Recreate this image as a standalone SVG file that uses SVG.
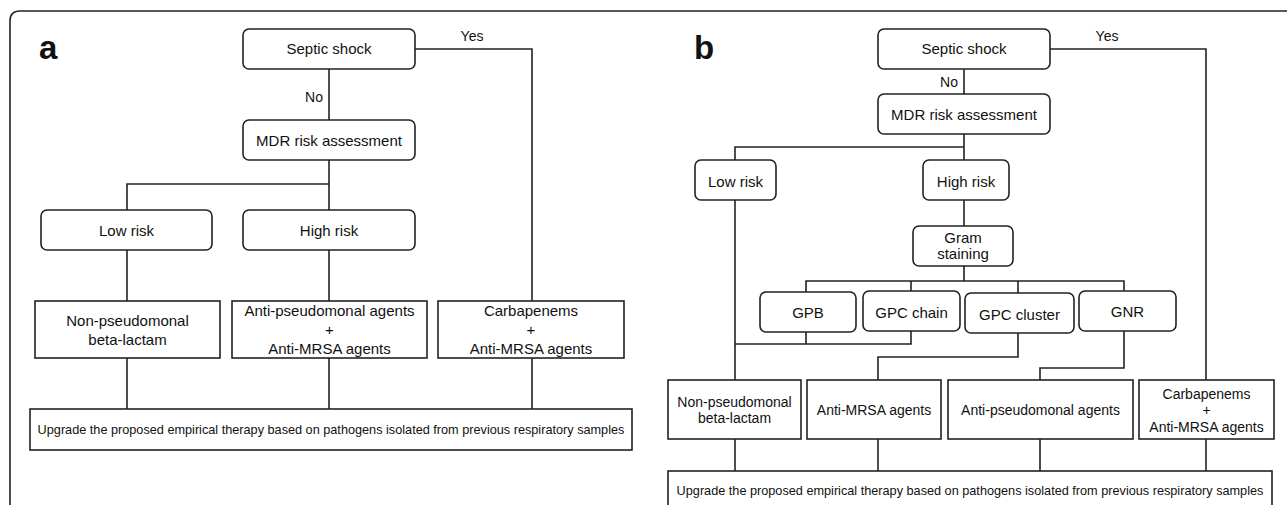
<svg xmlns="http://www.w3.org/2000/svg" width="1287" height="505" viewBox="0 0 1287 505">
<style>
.b{fill:#fff;stroke:#222;stroke-width:1.6}
.c{fill:none;stroke:#222;stroke-width:1.6}
text{font-family:"Liberation Sans",Arial,sans-serif;fill:#111;text-anchor:middle}
.t15{font-size:15px}
.t14{font-size:14px}
.t12{font-size:12.7px}
.lab{font-size:33px;font-weight:bold;text-anchor:start}
</style>
<rect width="1287" height="505" fill="#fff"/>
<path class="c" d="M10,505 V21 Q10,11 20,11 H1287"/>
<text class="lab" x="39" y="59">a</text>
<text class="lab" x="694" y="59">b</text>

<g id="connectors">
  <path class="c" d="M329,69 V120"/>
  <path class="c" d="M415,49 H532 V301"/>
  <path class="c" d="M329,160 V210 M127,210 V184 H329"/>
  <path class="c" d="M127,250 V301 M329,250 V301"/>
  <path class="c" d="M127,358 V409 M329,358 V409 M532,358 V409"/>
  <text class="t14" x="314" y="101.5">No</text>
  <text class="t14" x="472" y="40.5">Yes</text>

  <path class="c" d="M964,69 V94"/>
  <path class="c" d="M1050,49 H1206 V380"/>
  <path class="c" d="M964,134 V160 M735,160 V147 H964"/>
  <path class="c" d="M735,200 V380"/>
  <path class="c" d="M964,200 V226"/>
  <path class="c" d="M964,266 V281 M806,292 V281 H1124 V291 M911,281 V291 M1018,281 V293"/>
  <path class="c" d="M735,344 H911 V331 M806,332 V344"/>
  <path class="c" d="M1018,333 V357 H878 V380"/>
  <path class="c" d="M1124,331 V368 H1040 V380"/>
  <path class="c" d="M735,439 V471 M878,439 V471 M1040,439 V471 M1206,439 V471"/>
  <text class="t14" x="949" y="87">No</text>
  <text class="t14" x="1107" y="40.5">Yes</text>
</g>

<g id="a-septic"><rect class="b" x="243" y="29" width="172" height="40" rx="6"/><text class="t15" x="329" y="53.5">Septic shock</text></g>
<g id="a-mdr"><rect class="b" x="243" y="120" width="172" height="40" rx="6"/><text class="t15" x="329" y="146">MDR risk assessment</text></g>
<g id="a-low"><rect class="b" x="41" y="210" width="171" height="40" rx="6"/><text class="t15" x="126.5" y="236">Low risk</text></g>
<g id="a-high"><rect class="b" x="243" y="210" width="172" height="40" rx="6"/><text class="t15" x="329" y="236">High risk</text></g>
<g id="a-nonpseudo"><rect class="b" x="35" y="301" width="185" height="57"/><text class="t15" x="127.5" y="326">Non-pseudomonal</text><text class="t15" x="127.5" y="345">beta-lactam</text></g>
<g id="a-antipseudo"><rect class="b" x="232" y="301" width="195" height="57"/><text class="t15" x="329.5" y="316">Anti-pseudomonal agents</text><text class="t15" x="329.5" y="335">+</text><text class="t15" x="329.5" y="354">Anti-MRSA agents</text></g>
<g id="a-carba"><rect class="b" x="438" y="301" width="186" height="57"/><text class="t15" x="531" y="316">Carbapenems</text><text class="t15" x="531" y="335">+</text><text class="t15" x="531" y="354">Anti-MRSA agents</text></g>
<g id="a-upgrade"><rect class="b" x="30" y="409" width="602" height="41"/><text class="t12" x="331" y="434">Upgrade the proposed empirical therapy based on pathogens isolated from previous respiratory samples</text></g>

<g id="b-septic"><rect class="b" x="878" y="29" width="172" height="40" rx="6"/><text class="t15" x="964" y="53.5">Septic shock</text></g>
<g id="b-mdr"><rect class="b" x="878" y="94" width="172" height="40" rx="6"/><text class="t15" x="964" y="119.5">MDR risk assessment</text></g>
<g id="b-low"><rect class="b" x="695" y="160" width="81" height="40" rx="6"/><text class="t15" x="735.5" y="186.5">Low risk</text></g>
<g id="b-high"><rect class="b" x="923" y="160" width="86" height="40" rx="6"/><text class="t15" x="966" y="186.5">High risk</text></g>
<g id="b-gram"><rect class="b" x="913" y="226" width="100" height="40" rx="6"/><text class="t15" x="963" y="243">Gram</text><text class="t15" x="963" y="259">staining</text></g>
<g id="b-gpb"><rect class="b" x="760" y="292" width="96" height="40" rx="6"/><text class="t15" x="808" y="318">GPB</text></g>
<g id="b-gpcchain"><rect class="b" x="863" y="291" width="97" height="40" rx="6"/><text class="t15" x="911.5" y="318">GPC chain</text></g>
<g id="b-gpccluster"><rect class="b" x="965" y="293" width="109" height="40" rx="6"/><text class="t15" x="1019.5" y="320">GPC cluster</text></g>
<g id="b-gnr"><rect class="b" x="1079" y="291" width="97" height="40" rx="6"/><text class="t15" x="1127.5" y="317">GNR</text></g>
<g id="b-nonpseudo"><rect class="b" x="668" y="380" width="133" height="59"/><text class="t14" x="734.5" y="407">Non-pseudomonal</text><text class="t14" x="734.5" y="423">beta-lactam</text></g>
<g id="b-antimrsa"><rect class="b" x="807" y="380" width="134" height="59"/><text class="t14" x="874" y="415">Anti-MRSA agents</text></g>
<g id="b-antipseudo"><rect class="b" x="948" y="380" width="185" height="59"/><text class="t14" x="1040.5" y="415">Anti-pseudomonal agents</text></g>
<g id="b-carba"><rect class="b" x="1139" y="380" width="135" height="59"/><text class="t14" x="1206.5" y="398.5">Carbapenems</text><text class="t14" x="1206.5" y="415">+</text><text class="t14" x="1206.5" y="432">Anti-MRSA agents</text></g>
<g id="b-upgrade"><rect class="b" x="668" y="471" width="604" height="45"/><text class="t12" x="970" y="494.5">Upgrade the proposed empirical therapy based on pathogens isolated from previous respiratory samples</text></g>
</svg>
